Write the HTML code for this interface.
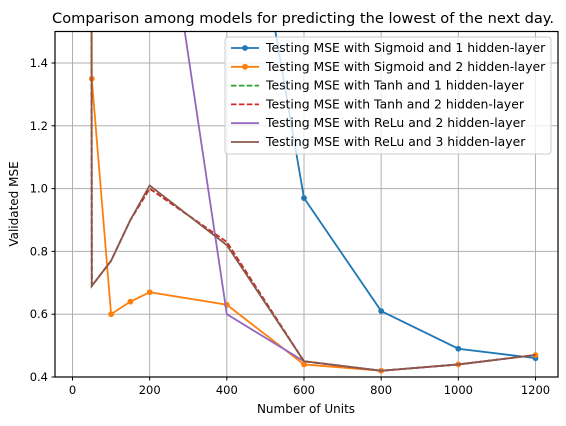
<!DOCTYPE html>
<html><head><meta charset="utf-8"><style>
body{margin:0;background:#fff;}
svg text{font-family:"DejaVu Sans","Liberation Sans",sans-serif;fill:#000;}
</style></head><body>
<svg id="chart" width="566" height="421" xmlns="http://www.w3.org/2000/svg">
<defs><clipPath id="clip"><rect x="55" y="31.5" width="503" height="345.5"/></clipPath></defs>
<g id="grid"></g>
<g id="series" clip-path="url(#clip)"></g>
<rect x="55" y="31.5" width="503" height="345.5" fill="none" stroke="#000" stroke-width="1.2"/>
<g id="ticks"></g>
<text x="303" y="23" font-size="14.6" text-anchor="middle">Comparison among models for predicting the lowest of the next day.</text>
<text x="306" y="413" font-size="12" text-anchor="middle">Number of Units</text>
<text x="0" y="0" font-size="12" text-anchor="middle" transform="translate(18,204) rotate(-90)">Validated MSE</text>
<g id="legend"></g>
</svg>
<script>
const xTicks=[0,200,400,600,800,1000,1200];
const yTicks=[0.4,0.6,0.8,1.0,1.2,1.4];
const sig1X=[50,100,200,400,600,800,1000,1200];
const sig1Y=[5,4.5,3.5,2.4,0.97,0.61,0.49,0.46];
const sig2X=[45,50,100,150,200,400,600,800,1000,1200];
const sig2Y=[8,1.35,0.60,0.64,0.67,0.63,0.44,0.42,0.44,0.47];
const tanh1X=[45,50,100,150,200,400,600,800,1000,1200];
const tanh1Y=[8,0.69,0.77,0.9,1.0,0.83,0.45,0.42,0.44,0.47];
const tanh2X=[45,50,100,150,200,400,600,800,1000,1200];
const tanh2Y=[8,0.69,0.77,0.9,1.0,0.83,0.45,0.42,0.44,0.47];
const relu2X=[50,100,200,400,600,800,1000,1200];
const relu2Y=[5,4,2.25,0.60,0.45,0.42,0.44,0.47];
const relu3X=[45,50,100,150,200,400,600,800,1000,1200];
const relu3Y=[8,0.69,0.77,0.9,1.01,0.82,0.45,0.42,0.44,0.47];
const labels=["Testing MSE with Sigmoid and 1 hidden-layer","Testing MSE with Sigmoid and 2 hidden-layer","Testing MSE with Tanh and 1 hidden-layer","Testing MSE with Tanh and 2 hidden-layer","Testing MSE with ReLu and 2 hidden-layer","Testing MSE with ReLu and 3 hidden-layer"];
const NS="http://www.w3.org/2000/svg";
const xs=v=>72.5+v*0.38583;
const ys=v=>377-(v-0.4)*314;
function mk(t,a,p){const e=document.createElementNS(NS,t);for(const k in a)e.setAttribute(k,a[k]);p.appendChild(e);return e;}
const grid=document.getElementById('grid'),ticks=document.getElementById('ticks');
xTicks.forEach(v=>{const x=xs(v);
 const g=mk('line',{x1:x,x2:x,y1:31.5,y2:377,stroke:'#b0b0b0','stroke-width':1},grid);
 
 
 mk('line',{x1:x,x2:x,y1:377,y2:380.5,stroke:'#000','stroke-width':1},ticks);
 const t=mk('text',{x:x,y:394,'font-size':11.5,'text-anchor':'middle'},ticks);t.textContent=v;
 
 });
yTicks.forEach(v=>{const y=ys(v);
 const g=mk('line',{x1:55,x2:558,y1:y,y2:y,stroke:'#b0b0b0','stroke-width':1},grid);
 
 
 mk('line',{x1:51.5,x2:55,y1:y,y2:y,stroke:'#000','stroke-width':1},ticks);
 const t=mk('text',{x:48,y:y+4,'font-size':11.5,'text-anchor':'end'},ticks);t.textContent=v.toFixed(1);
 
 });
const series=[[sig1X,sig1Y,'#1f77b4',false,true,'sigmoid-1-line'],[sig2X,sig2Y,'#ff7f0e',false,true,'sigmoid-2-line'],[tanh1X,tanh1Y,'#2ca02c',true,false,'tanh-1-line'],[tanh2X,tanh2Y,'#d62728',true,false,'tanh-2-line'],[relu2X,relu2Y,'#9467bd',false,false,'relu-2-line'],[relu3X,relu3Y,'#8c564b',false,false,'relu-3-line']];
const sg=document.getElementById('series');
series.forEach(s=>{const pts=s[0].map((x,i)=>xs(x)+','+ys(s[1][i])).join(' ');
 const a={points:pts,fill:'none',stroke:s[2],'stroke-width':1.8};if(s[3])a['stroke-dasharray']='5.5,2.4';
 const p=mk('polyline',a,sg);
 
 
 if(s[4])s[0].forEach((x,i)=>{const c=mk('circle',{cx:xs(x),cy:ys(s[1][i]),r:2.9,fill:s[2]},sg);
  
  });});
const lg=document.getElementById('legend');
const box=mk('rect',{x:225,y:37,width:326,height:117,rx:3,fill:'#fff','fill-opacity':0.8,stroke:'#ccc'},lg);


labels.forEach((l,i)=>{const y=48+i*18.8;const s=series[i];
 const g=mk('g',{},lg);
 
 
 const a={x1:231,x2:259,y1:y,y2:y,stroke:s[2],'stroke-width':1.8};if(s[3])a['stroke-dasharray']='5.5,2.4';
 mk('line',a,g);
 if(s[4])mk('circle',{cx:245,cy:y,r:2.9,fill:s[2]},g);
 const t=mk('text',{x:266,y:y+4,'font-size':12.4},g);t.textContent=l;});
</script>
</body></html>
